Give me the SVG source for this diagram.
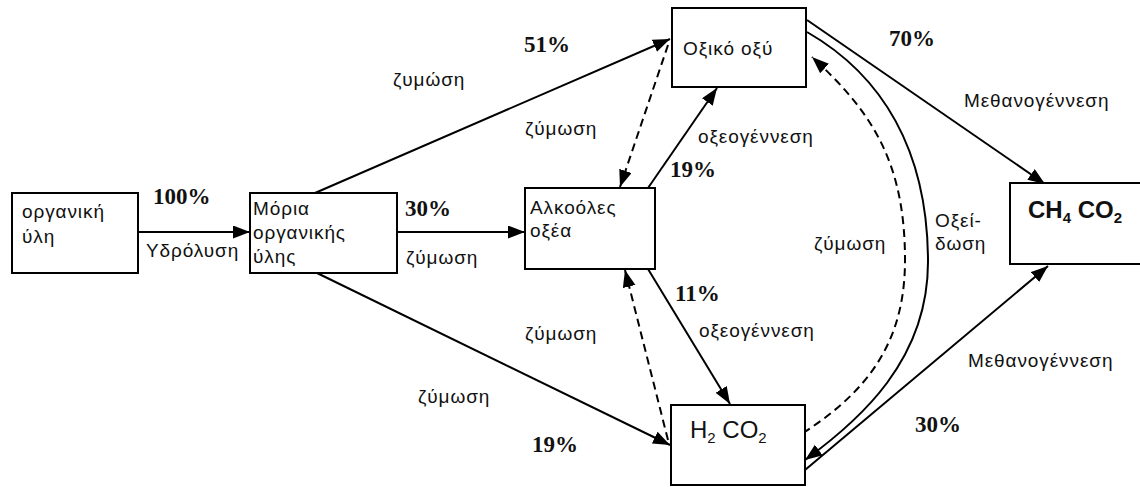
<svg xmlns="http://www.w3.org/2000/svg" width="1140" height="487" viewBox="0 0 1140 487">
<style>
.box{fill:#fff;stroke:#000;stroke-width:2}
.t{font-family:"Liberation Sans",Arial,sans-serif;font-size:19px;fill:#111;letter-spacing:0.9px}
.p{font-family:"Liberation Serif","Times New Roman",serif;font-size:23px;font-weight:bold;fill:#111}
.big{font-family:"Liberation Sans",Arial,sans-serif;font-size:24px;fill:#111}
.line{fill:none;stroke:#000;stroke-width:2}
.dash{fill:none;stroke:#000;stroke-width:2;stroke-dasharray:8,5}
</style>
<defs>
<marker id="ah" markerUnits="userSpaceOnUse" markerWidth="18" markerHeight="14" refX="17" refY="6.5" orient="auto">
<path d="M0,0 L17,6.5 L0,13 z" fill="#000"/>
</marker>
</defs>
<rect width="1140" height="487" fill="#fff"/>
<g id="connectors">
<path class="line" d="M138,232 L250,232" marker-end="url(#ah)"/>
<path class="line" d="M315,193 L670,39" marker-end="url(#ah)"/>
<path class="dash" d="M668,45 L620,187" marker-end="url(#ah)"/>
<path class="line" d="M648,188 L717,88" marker-end="url(#ah)"/>
<path class="line" d="M397,232 L525,232" marker-end="url(#ah)"/>
<path class="line" d="M317,273 L670,445" marker-end="url(#ah)"/>
<path class="dash" d="M668,440 L625,270" marker-end="url(#ah)"/>
<path class="line" d="M648,269 L730,404" marker-end="url(#ah)"/>
<path class="line" d="M807,20 L1045,184" marker-end="url(#ah)"/>
<path class="line" d="M807,32 C882,75 928,150 928,262 C928,360 860,420 805,460" marker-end="url(#ah)"/>
<path class="dash" d="M803,433 C870,390 905,340 905,260 C905,160 870,110 812,57" marker-end="url(#ah)"/>
<path class="line" d="M805,470 L1048,266" marker-end="url(#ah)"/>
<text class="p" x="153" y="204">100%</text>
<text class="t" x="146" y="257">Υδρόλυση</text>
<text class="p" x="524" y="52">51%</text>
<text class="t" x="393" y="86">ζυμώση</text>
<text class="t" x="525" y="135">ζύμωση</text>
<text class="p" x="670" y="177">19%</text>
<text class="t" x="698" y="143">οξεογέννεση</text>
<text class="p" x="405" y="216">30%</text>
<text class="t" x="406" y="264">ζύμωση</text>
<text class="t" x="418" y="403">ζύμωση</text>
<text class="p" x="532" y="452">19%</text>
<text class="t" x="525" y="340">ζύμωση</text>
<text class="p" x="675" y="301">11%</text>
<text class="t" x="699" y="337">οξεογέννεση</text>
<text class="p" x="889" y="46">70%</text>
<text class="t" x="964" y="107">Μεθανογέννεση</text>
<text class="t" x="935" y="227">Οξεί-</text>
<text class="t" x="935" y="250">δωση</text>
<text class="t" x="814" y="250">ζύμωση</text>
<text class="t" x="968" y="367">Μεθανογέννεση</text>
<text class="p" x="915" y="432">30%</text>
</g>
<g id="organiki">
<rect class="box" x="12" y="193" width="126" height="80"/>
<text class="t" x="22" y="218">οργανική</text>
<text class="t" x="22" y="243">ύλη</text>
</g>
<g id="moria">
<rect class="box" x="250" y="193" width="147" height="80"/>
<text class="t" x="253" y="215">Μόρια</text>
<text class="t" x="253" y="239">οργανικής</text>
<text class="t" x="253" y="263">ύλης</text>
</g>
<g id="oxiko">
<rect class="box" x="672" y="8" width="134" height="79"/>
<text class="t" x="683" y="55">Οξικό οξύ</text>
</g>
<g id="alkooles">
<rect class="box" x="525" y="188" width="130" height="81"/>
<text class="t" x="530" y="214">Αλκοόλες</text>
<text class="t" x="530" y="237">οξέα</text>
</g>
<g id="h2co2">
<rect class="box" x="671" y="405" width="134" height="80"/>
<text class="big" x="690" y="438">H<tspan font-size="15" dy="5">2</tspan><tspan dy="-5"> CO</tspan><tspan font-size="15" dy="5">2</tspan></text>
</g>
<g id="ch4co2">
<rect class="box" x="1010" y="183" width="140" height="81"/>
<text class="big" x="1028" y="218" font-weight="bold" font-size="23">CH<tspan font-size="15" dy="5">4</tspan><tspan dy="-5"> CO</tspan><tspan font-size="15" dy="5">2</tspan></text>
</g>
</svg>
